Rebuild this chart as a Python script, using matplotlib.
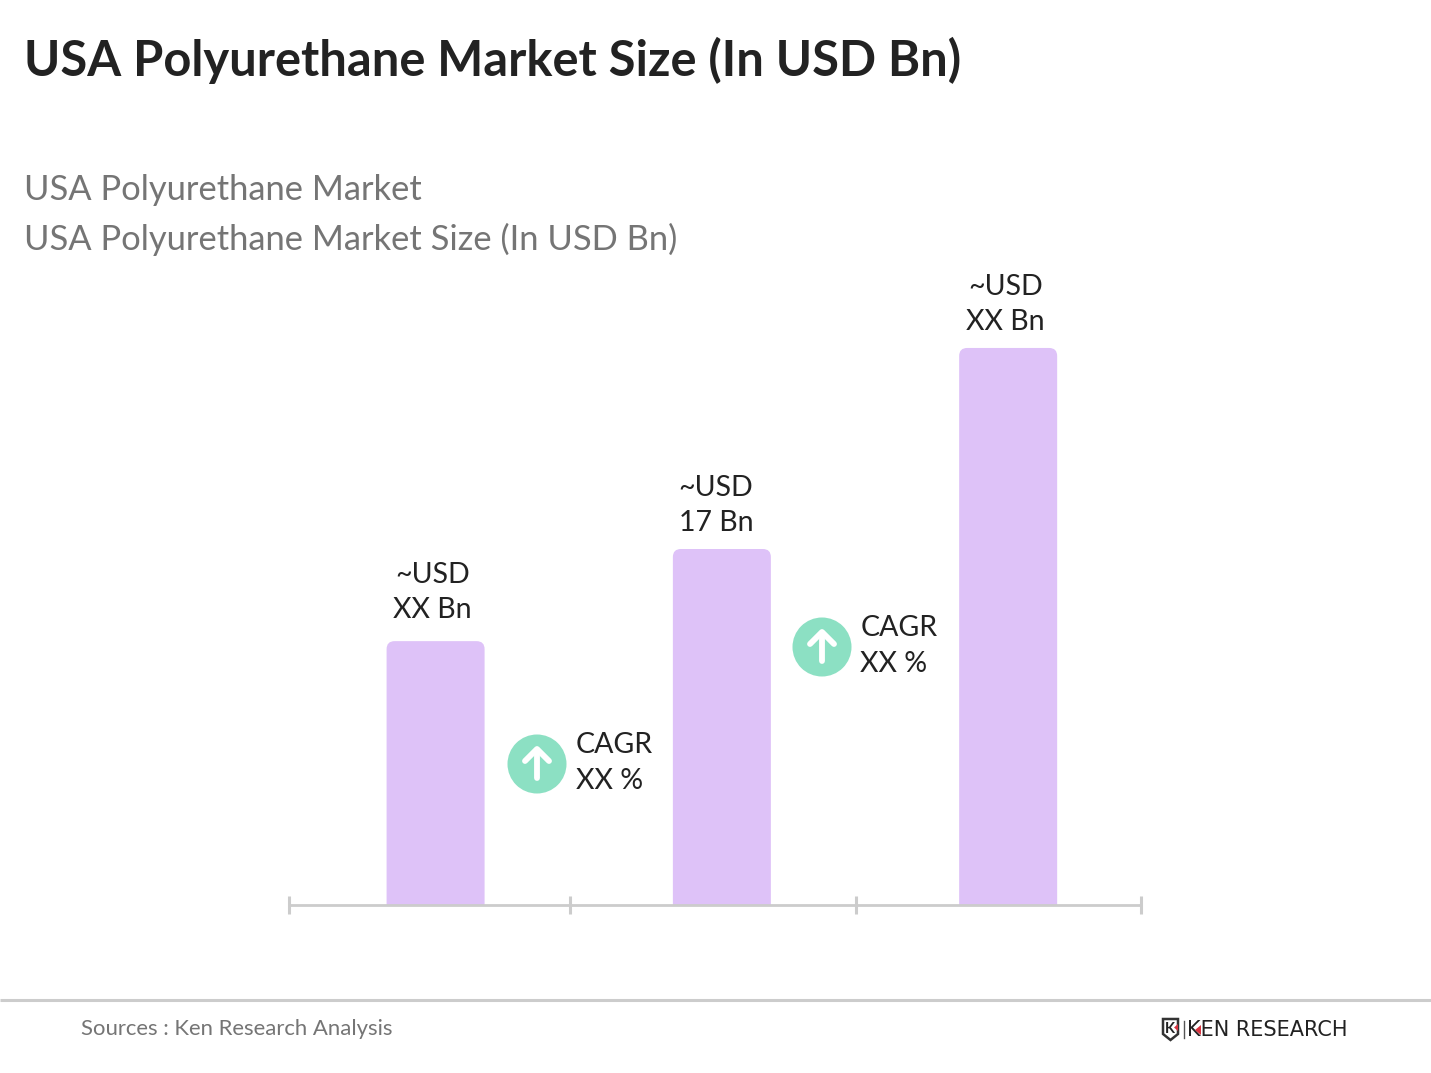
import matplotlib
matplotlib.use("Agg")
import matplotlib.pyplot as plt
from matplotlib.patches import Circle, FancyBboxPatch, Polygon

plt.rcParams['font.family'] = ['Lato', 'DejaVu Sans']

W, H = 1431, 1073

title = "USA Polyurethane Market Size (In USD Bn)"
subtitle_1 = "USA Polyurethane Market"
subtitle_2 = "USA Polyurethane Market Size (In USD Bn)"
source = "Sources : Ken Research Analysis"

# values, only the 17 is printed in the chart
positions = [0, 1, 2]
values = [12.6, 17.0, 26.6]
bar_labels = ["~USD\nXX Bn", "~USD\n17 Bn", "~USD\nXX Bn"]
tick_positions = [-0.512, 0.47, 1.469, 2.464]
cagr_labels = ["CAGR\nXX %", "CAGR\nXX %"]

PURPLE = "#dec2f8"
GREEN = "#8ce0c3"
AXIS = "#cccccc"
DARK = "#222222"
GREY = "#757575"

fig = plt.figure(figsize=(W / 100, H / 100), dpi=100, facecolor="white")

# overlay in pixel coordinates for the texts and decorations
page = fig.add_axes([0, 0, 1, 1])
page.set_xlim(0, W)
page.set_ylim(H, 0)
page.axis("off")

# chart axes, baseline at y=905, from x=289 to x=1141
left, right, base, top = 289, 1141, 905, 300
ax = fig.add_axes([left / W, 1 - base / H, (right - left) / W, (base - top) / H])
ax.patch.set_alpha(0)
ax.set_xlim(tick_positions[0], tick_positions[-1])
ax.set_ylim(0, 17.0 * (base - top) / 356)
for s in ["left", "right", "top"]:
    ax.spines[s].set_visible(False)
ax.spines["bottom"].set_color(AXIS)
ax.spines["bottom"].set_linewidth(2)
ax.set_yticks([])
ax.set_xticks(tick_positions)
ax.set_xticklabels([])
ax.tick_params(axis="x", length=0)

x_per_px = (tick_positions[-1] - tick_positions[0]) / (right - left)
y_per_px = 17.0 / 356
bar_w = 98 * x_per_px
radius = 8 * x_per_px

# ticks straddle the baseline
for t in tick_positions:
    ax.plot([t, t], [-9 * y_per_px, 9 * y_per_px], color=AXIS, lw=2.2, clip_on=False, zorder=3,
            solid_capstyle="butt")

label_dx = [-3, -6, -3]
label_dy = [18, 13, 13]
for x, v, lab, dx, dy in zip(positions, values, bar_labels, label_dx, label_dy):
    box = FancyBboxPatch((x - bar_w / 2 + radius, -1), bar_w - 2 * radius, v + 1 - radius * y_per_px / x_per_px,
                         boxstyle=f"round,pad={radius},rounding_size={radius}",
                         mutation_aspect=y_per_px / x_per_px,
                         fc=PURPLE, ec="none", zorder=2)
    ax.add_patch(box)
    ax.annotate(lab, (x, v), xytext=(dx, dy), textcoords="offset pixels",
                ha="center", va="bottom", fontsize=20.5, color=DARK,
                linespacing=1.43, annotation_clip=False)

# CAGR badges
badge_x = [537, 822]
badge_y = [764, 647]
for bx, by, lab in zip(badge_x, badge_y, cagr_labels):
    line_1, line_2 = lab.split("\n")
    page.add_patch(Circle((bx, by), 29.5, fc=GREEN, ec="none"))
    page.plot([bx, bx], [by + 14, by - 14], color="white", lw=4.2, solid_capstyle="round")
    page.plot([bx - 12, bx, bx + 12], [by - 3, by - 15, by - 3], color="white", lw=4.2,
              solid_capstyle="round", solid_joinstyle="round")
    page.text(bx + 38.5, by - 19, line_1, fontsize=20.5, color=DARK, va="center")
    page.text(bx + 38.5, by + 17, line_2, fontsize=20.5, color=DARK, va="center")

# header
page.text(23.5, 76, title, fontsize=35.2, fontweight="bold", color=DARK, va="baseline")
page.text(23.5, 200, subtitle_1, fontsize=24.8, color=GREY, va="baseline")
page.text(23.5, 250, subtitle_2, fontsize=24.8, color=GREY, va="baseline")

# footer
page.plot([0, W], [999.5, 999.5], color=AXIS, lw=2.2, solid_capstyle="butt")
page.text(81, 1035, source, fontsize=15.95, color=GREY, va="baseline")

# logo
page.add_patch(Polygon([(1163, 1019), (1178, 1019), (1178, 1034), (1170.5, 1040), (1163, 1034)],
                       closed=True, fc="white", ec="#333333", lw=1.8))
page.text(1170, 1029, "K", fontsize=10.5, fontweight="bold", color="#222222", ha="center", va="center")
page.add_patch(Polygon([(1178, 1024), (1178, 1031), (1174, 1027.5)], closed=True, fc="#d8333f", ec="none", zorder=4))
page.plot([1184, 1184], [1021, 1038], color="#555555", lw=1)
page.text(1187, 1036, "KEN RESEARCH", fontsize=15, family=["DejaVu Sans"], color="#222222", va="baseline")
page.add_patch(Polygon([(1201, 1025), (1201, 1035), (1195, 1030)], closed=True, fc="#d8333f", ec="none", zorder=4))

fig.savefig("out.png", dpi=100)
